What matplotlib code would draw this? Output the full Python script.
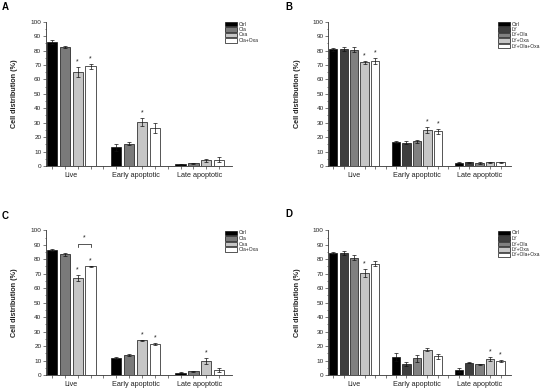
import numpy as np
import matplotlib.pyplot as plt
from matplotlib.ticker import MultipleLocator

plt.rcParams['font.family'] = ['Liberation Sans', 'DejaVu Sans']

categories = ['Live', 'Early apoptotic', 'Late apoptotic']

# panel A
labels_a = ['Ctrl', 'Ola', 'Oxa', 'Ola+Oxa']
mean_a = [[86, 82.5, 65, 69], [13, 15.5, 30.5, 26.5], [1.2, 1.8, 4, 4.5]]
err_a = [[1.5, 0.6, 3.5, 2], [2.5, 1.2, 2.5, 3.5], [0.3, 0.5, 1, 1.5]]
star_a = [(0, 2), (0, 3), (1, 2)]

# panel B
labels_b = ['Ctrl', 'LY', 'LY+Ola', 'LY+Oxa', 'LY+Ola+Oxa']
mean_b = [[81, 81, 80.5, 72, 73], [16.5, 16, 17, 25, 24], [2.3, 2.5, 2, 2.5, 2.7]]
err_b = [[1, 1.2, 1.8, 1, 2], [0.5, 1, 1, 2, 1.8], [0.3, 0.3, 0.5, 0.5, 0.3]]
star_b = [(0, 3), (0, 4), (1, 3), (1, 4)]

# panel C
labels_c = ['Ctrl', 'Ola', 'Oxa', 'Ola+Oxa']
mean_c = [[86.5, 83.5, 67, 75], [11.5, 14, 24, 21.5], [1.5, 2.5, 9.5, 3.5]]
err_c = [[0.5, 1, 2, 0.5], [0.7, 0.7, 0.5, 0.8], [0.3, 0.4, 2, 1.2]]
star_c = [(0, 2), (0, 3), (1, 2), (1, 3), (2, 2)]

# panel D
labels_d = ['Ctrl', 'LY', 'LY+Ola', 'LY+Oxa', 'LY+Ola+Oxa']
mean_d = [[84.5, 84.5, 81, 70.5, 77], [12.5, 7.5, 11.5, 17.5, 13], [3.5, 8.5, 7.5, 11, 10]]
err_d = [[0.8, 1.5, 1.8, 2.5, 1.8], [2.5, 1.5, 2.5, 1, 1.8], [1.5, 0.3, 0.3, 1.2, 0.7]]
star_d = [(0, 3), (2, 3), (2, 4)]

colors4 = ['#000000', '#7a7a7a', '#c6c6c6', '#ffffff']
colors5 = ['#000000', '#3e3e3e', '#808080', '#c6c6c6', '#ffffff']

W, H = 550, 392
fig = plt.figure(figsize=(5.5, 3.92), dpi=100)

txt = '#222222'


def panel(rect, letter, letter_xy, labels, means, errs, stars, colors, leg_xy):
    ax = fig.add_axes([rect[0] / W, 1 - rect[3] / H, (rect[2] - rect[0]) / W, (rect[3] - rect[1]) / H])
    n = len(labels)
    step = n + 1
    for s in range(n):
        xs = [g * step + s for g in range(3)]
        vals = [means[g][s] for g in range(3)]
        es = [errs[g][s] for g in range(3)]
        ax.bar(xs, vals, width=0.8, color=colors[s], edgecolor='#111111', linewidth=0.5,
               label=labels[s], zorder=2)
        ax.errorbar(xs, vals, yerr=es, fmt='none', ecolor='#111111', elinewidth=0.5,
                    capsize=1.2, capthick=0.5, zorder=3)
    for g, s in stars:
        ax.text(g * step + s, means[g][s] + errs[g][s] + 3.5, '*', ha='center', va='center',
                fontsize=5, color=txt)
    ax.set_xlim(-0.5, 3 * step - 1)
    ax.set_ylim(0, 100)
    ax.yaxis.set_major_locator(MultipleLocator(10))
    ax.yaxis.set_minor_locator(MultipleLocator(5))
    ax.set_xticks([g * step + (n - 1) / 2 for g in range(3)])
    ax.set_xticklabels(categories, fontsize=5.2, color=txt)
    ax.set_xticks(np.arange(0, 3 * step - 1), minor=True)
    ax.tick_params(axis='x', which='major', length=0, pad=4.5)
    ax.tick_params(axis='x', which='minor', length=2, width=0.5, color='#444444')
    ax.tick_params(axis='y', which='major', length=2, width=0.5, color='#444444',
                   labelsize=4.6, labelcolor=txt, pad=1)
    ax.tick_params(axis='y', which='minor', length=1, width=0.5, color='#444444')
    for side in ['top', 'right']:
        ax.spines[side].set_visible(False)
    for side in ['left', 'bottom']:
        ax.spines[side].set_linewidth(0.6)
        ax.spines[side].set_color('#333333')
    ax.set_ylabel('Cell distribution (%)', fontsize=5.2, fontweight='bold', color=txt)
    ax.yaxis.set_label_coords(-0.15, 0.5)
    fig.text(letter_xy[0] / W, 1 - letter_xy[1] / H, letter, fontsize=7, fontweight='bold',
             ha='center', va='center')
    ax.legend(loc='upper left', bbox_to_anchor=(leg_xy[0] / W, 1 - leg_xy[1] / H),
              bbox_transform=fig.transFigure, frameon=False, fontsize=3.6,
              handlelength=2.4, handleheight=1.0, handletextpad=0.3, labelspacing=0.1,
              borderpad=0, borderaxespad=0, labelcolor=txt)
    return ax


panel((45.5, 21.7, 232, 166), 'A', (5, 7), labels_a, mean_a, err_a, star_a, colors4, (225, 21.5))
panel((328, 21.7, 511, 166), 'B', (289, 7), labels_b, mean_b, err_b, star_b, colors5, (498, 21.5))
ax_c = panel((45.5, 230.3, 232, 375), 'C', (5, 216), labels_c, mean_c, err_c, star_c, colors4, (225, 230.5))
panel((328, 230.3, 511, 375), 'D', (289, 214), labels_d, mean_d, err_d, star_d, colors5, (498, 230.5))

# bracket between Oxa and Ola+Oxa in panel C
ax_c.plot([2, 2, 3, 3], [88.7, 90.3, 90.3, 88.7], color='#111111', linewidth=0.5)
ax_c.text(2.5, 95, '*', ha='center', va='center', fontsize=5, color=txt)

fig.savefig('out.png', dpi=100)
